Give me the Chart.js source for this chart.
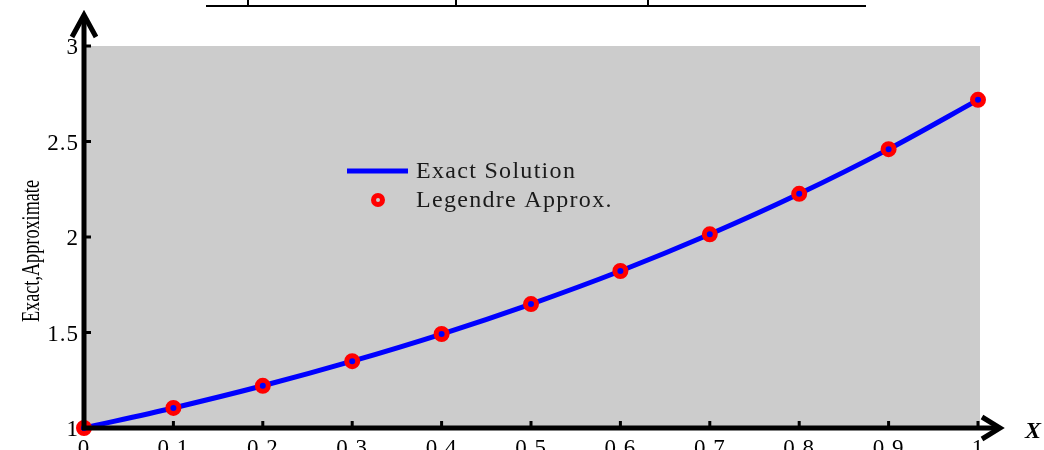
<!DOCTYPE html>
<html>
<head>
<meta charset="utf-8">
<script src="https://cdn.jsdelivr.net/npm/chart.js@4.4.1/dist/chart.umd.min.js"></script>
<style>
  body { margin: 0; background: #fff; }
  #wrap { position: relative; width: 1044px; height: 450px; }
</style>
</head>
<body>
<div id="wrap"><canvas id="chart" width="1044" height="450"></canvas></div>
<script>
const xValues = [0, 0.1, 0.2, 0.3, 0.4, 0.5, 0.6, 0.7, 0.8, 0.9, 1];
const exactValues = [1, 1.105, 1.221, 1.35, 1.492, 1.649, 1.822, 2.014, 2.226, 2.46, 2.718];
const approxValues = [1, 1.105, 1.221, 1.35, 1.492, 1.649, 1.822, 2.014, 2.226, 2.46, 2.718];
const xTickLabels = ["0", "0.1", "0.2", "0.3", "0.4", "0.5", "0.6", "0.7", "0.8", "0.9", "1"];
const yTickValues = [1, 1.5, 2, 2.5, 3];
const yTickLabels = ["1", "1.5", "2", "2.5", "3"];

const serif = '"Liberation Serif", "Times New Roman", serif';

const axesPlugin = {
    id: "axesPlugin",
    beforeDraw(chart) {
        const { ctx, chartArea: a } = chart;
        ctx.save();
        ctx.fillStyle = "#cccccc";
        ctx.fillRect(a.left, a.top, a.right - a.left + 2, a.bottom - a.top);
        ctx.restore();
    },
    afterDraw(chart) {
        const { ctx } = chart;
        const xs = chart.scales.x, ys = chart.scales.y;
        const x0 = xs.getPixelForValue(0), y0 = ys.getPixelForValue(1);
        ctx.save();
        ctx.strokeStyle = "#000";
        // axes
        ctx.lineWidth = 5;
        ctx.beginPath();
        ctx.moveTo(x0, y0 + 2);
        ctx.lineTo(x0, 16);
        ctx.moveTo(x0 - 2, y0);
        ctx.lineTo(998, y0);
        ctx.stroke();
        // arrow heads
        ctx.beginPath();
        ctx.moveTo(x0 - 12, 37);
        ctx.lineTo(x0, 15);
        ctx.lineTo(x0 + 12, 37);
        ctx.moveTo(982, y0 - 11);
        ctx.lineTo(1000, y0);
        ctx.lineTo(982, y0 + 11);
        ctx.stroke();
        // ticks
        ctx.lineWidth = 3;
        ctx.beginPath();
        xValues.forEach(v => {
            const px = xs.getPixelForValue(v);
            ctx.moveTo(px, y0);
            ctx.lineTo(px, y0 - 7);
        });
        yTickValues.forEach(v => {
            const py = ys.getPixelForValue(v);
            ctx.moveTo(x0, py);
            ctx.lineTo(x0 + 7, py);
        });
        ctx.stroke();
        // tick labels
        ctx.fillStyle = "#000";
        ctx.font = "23px " + serif;
        ctx.letterSpacing = "1px";
        ctx.textAlign = "center";
        ctx.textBaseline = "top";
        xValues.forEach((v, i) => {
            ctx.fillText(xTickLabels[i], xs.getPixelForValue(v), 437);
        });
        ctx.textAlign = "right";
        ctx.textBaseline = "middle";
        yTickValues.forEach((v, i) => {
            ctx.fillText(yTickLabels[i], x0 - 5, ys.getPixelForValue(v) + 2);
        });
        ctx.letterSpacing = "0px";
        // axis titles
        ctx.save();
        ctx.translate(32, 251);
        ctx.rotate(-Math.PI / 2);
        ctx.scale(0.7, 1);
        ctx.textAlign = "center";
        ctx.font = "26px " + serif;
        ctx.fillText("Exact,Approximate", 0, 0);
        ctx.restore();
        ctx.font = "italic bold 24px " + serif;
        ctx.textAlign = "left";
        ctx.fillText("X", 1025, y0 + 4);
        // legend
        ctx.strokeStyle = "#0000ff";
        ctx.lineWidth = 5;
        ctx.beginPath();
        ctx.moveTo(347, 171);
        ctx.lineTo(408, 171);
        ctx.stroke();
        ctx.strokeStyle = "#ff0000";
        ctx.lineWidth = 5;
        ctx.beginPath();
        ctx.arc(378, 200, 4.5, 0, Math.PI * 2);
        ctx.stroke();
        ctx.fillStyle = "#1a1a1a";
        ctx.font = "24px " + serif;
        ctx.letterSpacing = "1.3px";
        ctx.fillText("Exact Solution", 416, 172);
        ctx.fillText("Legendre Approx.", 416, 201);
        ctx.letterSpacing = "0px";
        // fragment of a table at the top edge
        ctx.strokeStyle = "#000";
        ctx.lineWidth = 2;
        ctx.beginPath();
        ctx.moveTo(206, 6);
        ctx.lineTo(866, 6);
        [248, 456, 648].forEach(px => {
            ctx.moveTo(px, 0);
            ctx.lineTo(px, 6);
        });
        ctx.stroke();
        ctx.restore();
    }
};

const chart = new Chart(document.getElementById("chart"), {
    type: "line",
    data: {
        labels: xValues,
        datasets: [
            {
                label: "Exact Solution",
                data: xValues.map((x, i) => ({ x: x, y: exactValues[i] })),
                borderColor: "#0000ff",
                borderWidth: 5,
                pointRadius: 0,
                cubicInterpolationMode: "monotone",
                clip: false,
                order: 2,
            },
            {
                label: "Legendre Approx.",
                data: xValues.map((x, i) => ({ x: x, y: approxValues[i] })),
                showLine: false,
                pointRadius: 5.5,
                pointBorderWidth: 5,
                pointBorderColor: "#ff0000",
                pointBackgroundColor: "#0000ff",
                clip: false,
                order: 1,
            },
        ],
    },
    options: {
        responsive: false,
        animation: false,
        layout: { padding: { left: 84, right: 66, top: 46, bottom: 22 } },
        plugins: { legend: { display: false }, tooltip: { enabled: false } },
        scales: {
            x: { type: "linear", min: 0, max: 1, display: false },
            y: { min: 1, max: 3, display: false },
        },
    },
    plugins: [axesPlugin],
});
</script>
</body>
</html>
